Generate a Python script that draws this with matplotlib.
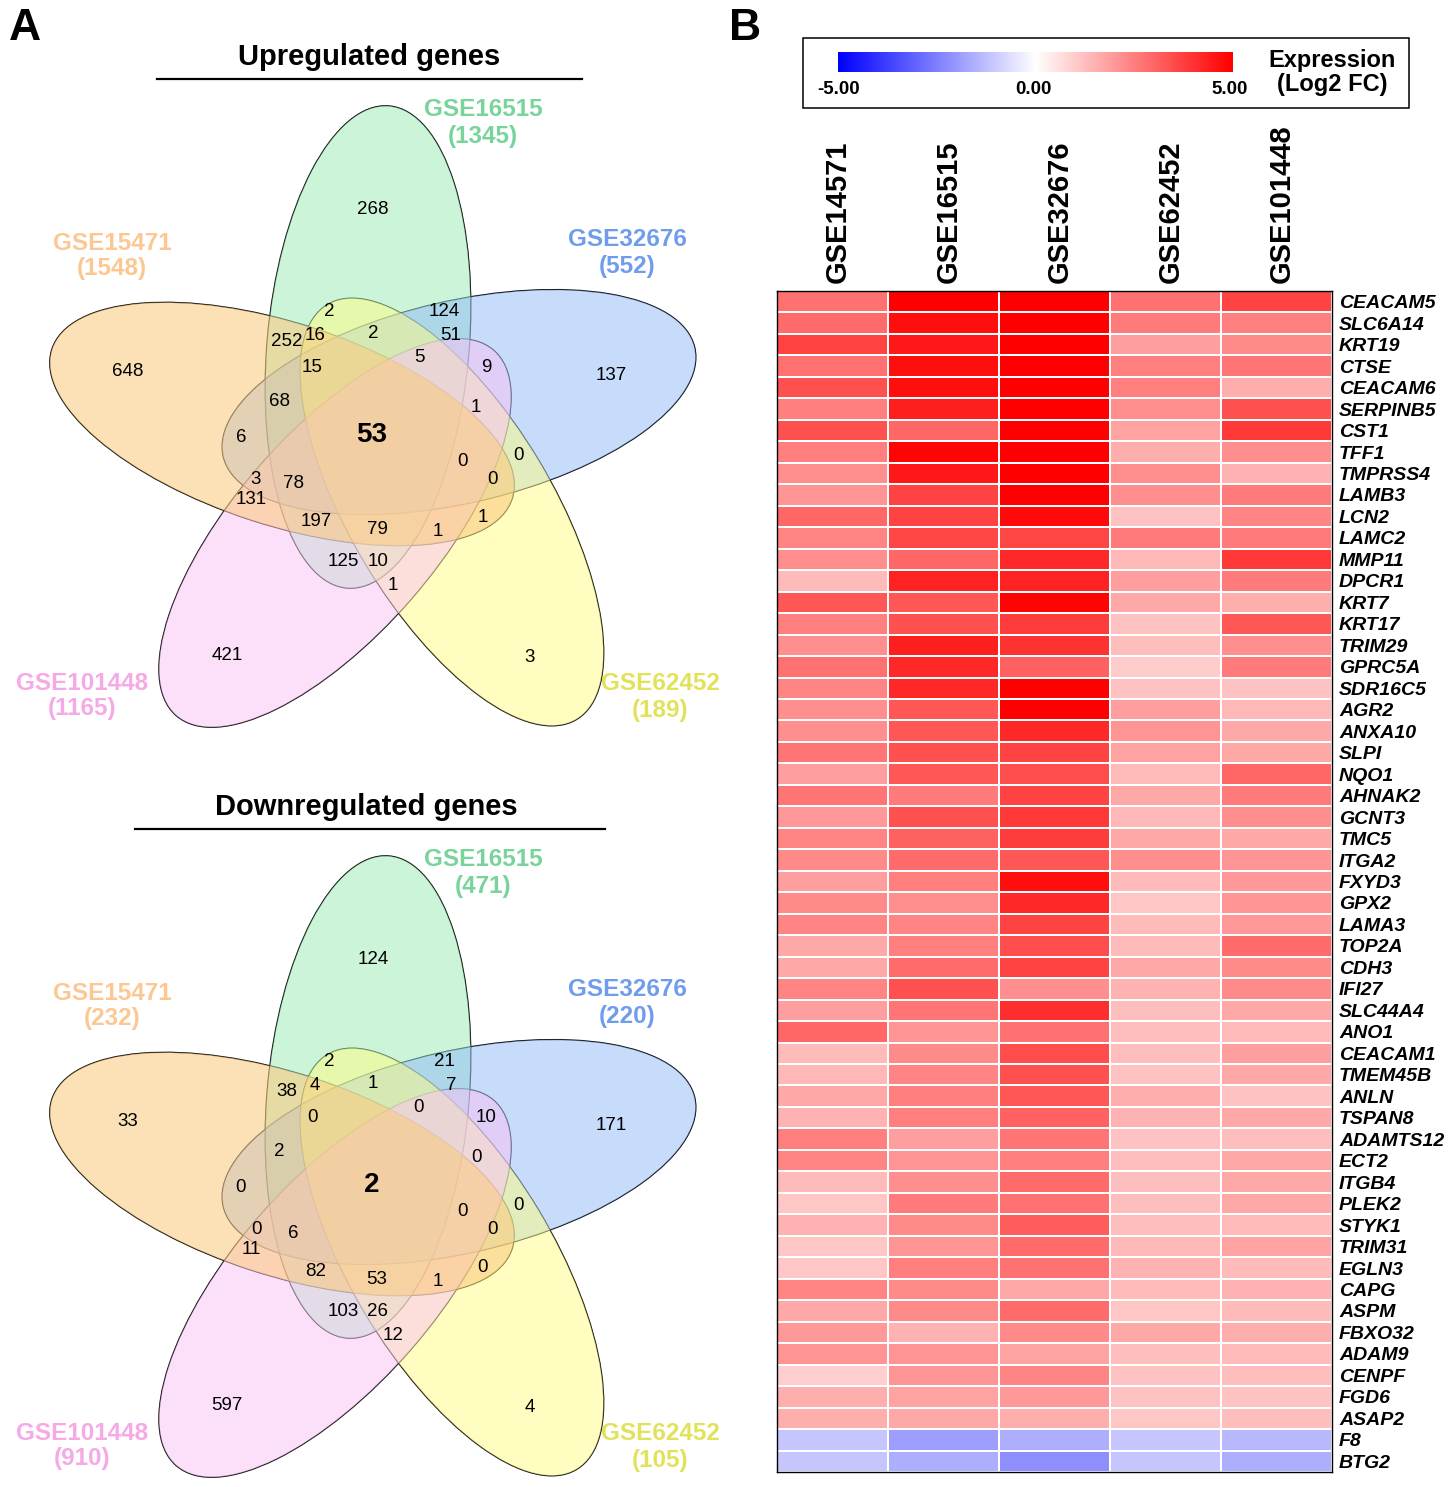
import numpy as np
import matplotlib
matplotlib.use("Agg")
import matplotlib.pyplot as plt
from matplotlib.patches import Ellipse, Rectangle
from matplotlib.colors import LinearSegmentedColormap

plt.rcParams['font.family'] = ['Liberation Sans', 'DejaVu Sans']

# ---------------- data ----------------
set_names = ['GSE16515', 'GSE32676', 'GSE62452', 'GSE101448', 'GSE15471']
up_sizes = [1345, 552, 189, 1165, 1548]
down_sizes = [471, 220, 105, 910, 232]

# region counts (same region order for both diagrams)
up_counts = [268, 124, 2, 252, 16, 2, 51, 5, 9, 15, 648, 137, 68, 1, 6, 53,
             0, 0, 0, 3, 78, 131, 1, 197, 79, 1, 125, 10, 1, 421, 3]
down_counts = [124, 21, 2, 38, 4, 1, 7, 0, 10, 0, 33, 171, 2, 0, 0, 2,
               0, 0, 0, 0, 6, 11, 0, 82, 53, 1, 103, 26, 12, 597, 4]

datasets = ['GSE14571', 'GSE16515', 'GSE32676', 'GSE62452', 'GSE101448']
genes = ['CEACAM5', 'SLC6A14', 'KRT19', 'CTSE', 'CEACAM6', 'SERPINB5', 'CST1',
         'TFF1', 'TMPRSS4', 'LAMB3', 'LCN2', 'LAMC2', 'MMP11', 'DPCR1', 'KRT7',
         'KRT17', 'TRIM29', 'GPRC5A', 'SDR16C5', 'AGR2', 'ANXA10', 'SLPI', 'NQO1',
         'AHNAK2', 'GCNT3', 'TMC5', 'ITGA2', 'FXYD3', 'GPX2', 'LAMA3', 'TOP2A',
         'CDH3', 'IFI27', 'SLC44A4', 'ANO1', 'CEACAM1', 'TMEM45B', 'ANLN', 'TSPAN8',
         'ADAMTS12', 'ECT2', 'ITGB4', 'PLEK2', 'STYK1', 'TRIM31', 'EGLN3', 'CAPG',
         'ASPM', 'FBXO32', 'ADAM9', 'CENPF', 'FGD6', 'ASAP2', 'F8', 'BTG2']

gse14571 = [2.8, 2.9, 3.7, 2.8, 3.4, 2.5, 3.4, 2.5, 2.2, 2.1, 3.0, 2.4, 2.2, 1.35, 3.3, 2.5, 2.2, 2.8,
            2.4, 2.2, 2.2, 2.7, 1.9, 2.7, 2.0, 2.4, 2.3, 1.9, 2.3, 2.4, 1.7, 1.7, 2.4, 1.9, 3.0, 1.35, 1.4,
            1.7, 1.5, 2.5, 2.4, 1.35, 1.1, 1.5, 1.1, 1.1, 2.4, 1.7, 2.0, 2.1, 0.95, 1.6, 1.6, -1.1, -1.1]
gse16515 = [5.0, 4.7, 4.5, 4.7, 4.7, 4.4, 3.0, 4.9, 4.5, 3.7, 3.7, 3.6, 3.0, 4.3, 3.3, 3.4, 4.4, 4.2,
            4.2, 3.3, 3.3, 3.4, 3.3, 2.6, 3.4, 3.1, 2.9, 2.5, 2.2, 2.4, 2.5, 2.9, 3.4, 2.7, 2.1, 2.3, 2.4,
            2.5, 2.5, 1.9, 2.1, 2.2, 2.6, 2.3, 2.1, 2.5, 2.3, 2.3, 1.5, 2.1, 2.1, 1.8, 1.7, -1.9, -1.6]
gse32676 = [5.0, 5.0, 5.0, 5.0, 5.0, 5.0, 5.0, 5.0, 5.0, 5.0, 4.8, 3.6, 4.2, 4.3, 4.9, 3.8, 4.0, 3.1,
            5.0, 5.0, 4.2, 3.7, 3.5, 3.7, 3.9, 3.8, 3.3, 4.7, 4.2, 3.7, 3.5, 3.7, 2.2, 4.1, 2.8, 3.5, 3.4,
            3.3, 3.1, 2.7, 2.5, 2.9, 2.8, 3.2, 2.9, 2.8, 1.7, 2.9, 2.3, 1.8, 2.4, 2.0, 1.6, -1.6, -2.2]
gse62452 = [2.8, 2.6, 1.9, 2.5, 2.5, 2.2, 1.8, 1.6, 2.2, 2.2, 1.2, 2.6, 1.4, 1.9, 1.7, 1.2, 1.25, 1.0,
            1.2, 1.9, 2.1, 1.8, 1.35, 1.7, 1.4, 1.7, 2.2, 1.35, 1.1, 1.35, 1.35, 1.7, 1.5, 1.25, 1.25, 1.25, 1.2,
            1.6, 1.5, 1.2, 1.25, 1.25, 1.25, 1.25, 1.4, 1.5, 1.35, 1.1, 1.7, 1.25, 1.2, 1.2, 1.1, -1.1, -1.1]
gse101448 = [3.7, 2.5, 2.3, 2.7, 1.6, 3.4, 3.9, 2.2, 1.5, 2.6, 2.4, 2.6, 3.9, 2.6, 1.6, 3.3, 2.2, 2.6,
             1.2, 1.4, 1.7, 1.7, 3.0, 2.6, 2.2, 1.7, 2.1, 2.0, 2.1, 2.0, 2.9, 2.3, 2.3, 1.7, 1.35, 1.9, 1.7,
             1.2, 1.7, 1.25, 1.7, 1.7, 1.7, 1.35, 1.8, 1.35, 1.5, 1.35, 1.6, 1.35, 1.25, 1.2, 1.25, -1.4, -1.6]

# ---------------- layout ----------------
W, H = 1454, 1487
fig = plt.figure(figsize=(W / 100, H / 100), dpi=100)
ov = fig.add_axes([0, 0, 1, 1])
ov.set_xlim(0, W)
ov.set_ylim(H, 0)
ov.axis('off')

fill_cols = ['#9BEBB5', '#91B9F9', '#FFFD81', '#FBC3F5', '#FBC97D']
fill_alpha = [0.5, 0.5, 0.5, 0.5, 0.56]
label_cols = ['#78D49A', '#6F9CEB', '#E2E25A', '#F5A9E5', '#FCC792']
# ellipse centre / tilt in pixels (screen, y down), order as set_names
ell_geo = [(368, 347, 5), (459, 402, 77), (452, 512, 149), (335, 533, 221), (282, 424, 288)]
label_pos = [(483, 110), (627, 240), (660, 684), (82, 683), (112, 243)]
region_pos = [(373, 209), (444, 311), (329, 312), (287, 341), (315, 336), (373, 333),
              (451, 335), (419, 357), (486, 367), (312, 368), (128, 371), (611, 375),
              (279, 402), (476, 408), (241, 437), (372, 435), (463, 461), (518, 456),
              (493, 480), (256, 479), (293, 483), (251, 500), (483, 518), (316, 522),
              (377, 530), (438, 532), (343, 561), (378, 562), (393, 586), (227, 656),
              (530, 657)]


def draw_venn(dy, title, tx, ux0, ux1, counts, sizes):
    a, b = 242, 101
    # outlines first, then translucent fills on top
    for ex, ey, ang in ell_geo:
        ov.add_patch(Ellipse((ex, ey + dy), 2 * b, 2 * a, angle=ang, fill=False,
                             edgecolor='black', lw=0.9, zorder=1))
    for k, (ex, ey, ang) in enumerate(ell_geo):
        ov.add_patch(Ellipse((ex, ey + dy), 2 * b, 2 * a, angle=ang, facecolor=fill_cols[k],
                             edgecolor='none', alpha=fill_alpha[k], zorder=2))
    for i, c in enumerate(counts):
        px, py = region_pos[i]
        if i == 15:
            ov.text(px, py + dy, str(c), fontsize=20, fontweight='bold',
                    ha='center', va='center', zorder=5)
        else:
            ov.text(px, py + dy, str(c), fontsize=13.5, ha='center', va='center', zorder=5)
    for k in range(5):
        lx, ly = label_pos[k]
        ov.text(lx, ly + dy, set_names[k], fontsize=17.5, fontweight='bold',
                color=label_cols[k], ha='center', va='center', zorder=5)
        ov.text(lx, ly + dy + 26, '(%d)' % sizes[k], fontsize=17.5, fontweight='bold',
                color=label_cols[k], ha='center', va='center', zorder=5)
    ov.text(tx, 57 + dy, title, fontsize=21, fontweight='bold', ha='center', va='center')
    ov.plot([ux0, ux1], [79 + dy, 79 + dy], color='black', lw=1.6)


draw_venn(0, 'Upregulated genes', 369, 157, 582, up_counts, up_sizes)
draw_venn(750, 'Downregulated genes', 366, 135, 605, down_counts, down_sizes)

ov.text(25, 28, 'A', fontsize=32, fontweight='bold', ha='center', va='center')
ov.text(745, 28, 'B', fontsize=32, fontweight='bold', ha='center', va='center')

# ---------------- heatmap ----------------
cmap = LinearSegmentedColormap.from_list('bwr_exp', ['#0000FF', '#FFFFFF', '#FF0000'])
mat = np.array([gse14571, gse16515, gse32676, gse62452, gse101448]).T

hx0, hx1, hy0, hy1 = 777, 1332, 291, 1472
ax = fig.add_axes([hx0 / W, 1 - hy1 / H, (hx1 - hx0) / W, (hy1 - hy0) / H])
ax.pcolormesh(mat, cmap=cmap, vmin=-5, vmax=5, edgecolors='white', linewidth=1.3)
ax.set_xlim(0, len(datasets))
ax.set_ylim(len(genes), 0)
ax.xaxis.tick_top()
ax.set_xticks(np.arange(len(datasets)) + 0.55)
ax.set_xticklabels(datasets, rotation=90, fontsize=21, fontweight='bold')
ax.yaxis.tick_right()
ax.set_yticks(np.arange(len(genes)) + 0.5)
ax.set_yticklabels(genes, fontsize=14, fontweight='bold', style='italic')
ax.tick_params(length=0)
ax.tick_params(axis='x', pad=6)
ax.tick_params(axis='y', pad=5)
for s in ax.spines.values():
    s.set_linewidth(1.0)
    s.set_color('black')

# ---------------- colour key ----------------
ov.add_patch(Rectangle((803, 38), 606, 70, fill=False, edgecolor='black', lw=1.1))
grad = np.linspace(-5, 5, 256).reshape(1, -1)
ov.imshow(grad, cmap=cmap, vmin=-5, vmax=5, extent=(838, 1233, 72, 52),
          aspect='auto', zorder=3)
ov.set_xlim(0, W)
ov.set_ylim(H, 0)
for xv, tv in [(839, '-5.00'), (1033, '0.00'), (1230, '5.00')]:
    ov.text(xv, 90, tv, fontsize=13.5, fontweight='bold', ha='center', va='center')
ov.text(1332, 60, 'Expression', fontsize=17, fontweight='bold', ha='center', va='center')
ov.text(1332, 85, '(Log2 FC)', fontsize=17, fontweight='bold', ha='center', va='center')

fig.savefig('out.png', dpi=100)
